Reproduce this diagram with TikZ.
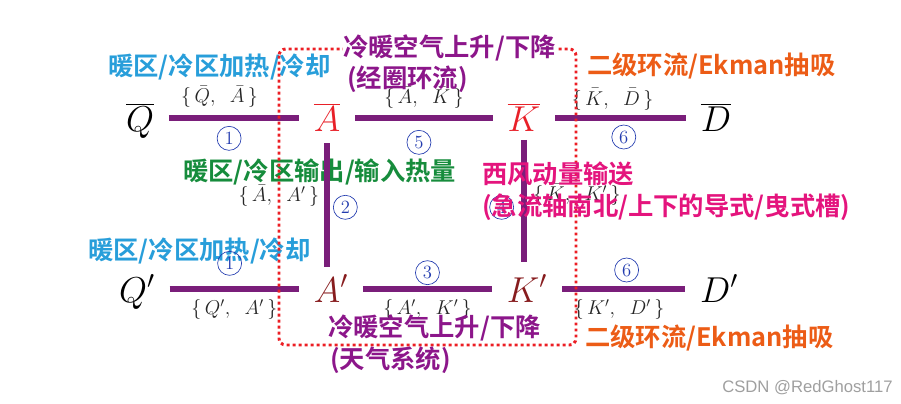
\RequirePackage{fix-cm}
\documentclass[tikz,border=0pt]{standalone}
\usepackage{fontspec}
\newfontfamily\cjk{Noto Sans CJK SC Bold}
\newfontfamily\wmfont{Liberation Sans}
\definecolor{barpurple}{RGB}{122,30,122}
\definecolor{topred}{RGB}{232,32,40}
\definecolor{lowred}{RGB}{135,28,30}
\definecolor{numblue}{RGB}{35,60,175}
\definecolor{heatblue}{RGB}{40,158,218}
\definecolor{airpurple}{RGB}{140,22,138}
\definecolor{fluxgreen}{RGB}{22,140,60}
\definecolor{windpink}{RGB}{228,20,125}
\definecolor{ekorange}{RGB}{236,92,22}
\definecolor{boxred}{RGB}{236,30,36}
\newcommand{\pairof}[2]{$\{\,#1,\;\;#2\,\}$}

\begin{document}
\begin{tikzpicture}[x=0.75pt,y=-0.75pt]
  \tikzstyle{symb}=[inner sep=0pt,anchor=base,text height=26pt,text depth=6.5pt,font=\fontsize{27}{27}\selectfont]
  \tikzstyle{bar}=[barpurple,line width=4pt,shorten <=11pt,shorten >=11pt]
  \tikzstyle{pair}=[inner sep=1pt,text=black!85,font=\fontsize{15}{15}\selectfont]
  \tikzstyle{circnum}=[circle,draw=numblue,line width=0.5pt,text=numblue,inner sep=0pt,minimum size=18pt,font=\fontsize{14}{14}\selectfont]
  \tikzstyle{note}=[anchor=west,inner sep=0pt,font=\cjk\fontsize{19}{19}\selectfont]
  \useasboundingbox (0,0) rectangle (901,404);
  % variables
  \node[symb] (Qb) at (140,131) {$\overline{Q}$};
  \node[symb,topred] (Ab) at (327,131) {$\overline{A}$};
  \node[symb,topred] (Kb) at (524,131) {$\overline{K}$};
  \node[symb] (Db) at (716,131) {$\overline{D}$};
  \node[symb] (Qp) at (137,302) {$Q'$};
  \node[symb,lowred] (Ap) at (331,302) {$A'$};
  \node[symb,lowred] (Kp) at (527,302) {$K'$};
  \node[symb] (Dp) at (719,302) {$D'$};
  % texts under the frame
  \node[note,heatblue] (heattop) at (108,67) {暖区/冷区加热/冷却};
  \node[note,heatblue] (heatlow) at (88,251) {暖区/冷区加热/冷却};
  \node[note,fluxgreen] (flux) at (183,172) {暖区/冷区输出/输入热量};
  % exchanges
  \draw[bar] (Qb) -- node[pair,above=5pt,pos=0.41] {\pairof{\bar{Q}}{\bar{A}}} node[circnum,below=6pt,pos=0.47] {1} (Ab);
  \draw[bar] (Ab) -- node[pair,above=4pt] {\pairof{\bar{A}}{\bar{K}}} node[circnum,below=9pt,pos=0.47] {5} (Kb);
  \draw[bar] (Kb) -- node[pair,above=3pt,pos=0.45] {\pairof{\bar{K}}{\bar{D}}} node[circnum,below=5pt,pos=0.52] {6} (Db);
  \draw[bar] (Qp) -- node[pair,below=5pt] {\pairof{Q'}{A'}} node[circnum,above=10pt,pos=0.47] {1} (Ap);
  \draw[bar] (Ap) -- node[pair,below=5pt] {\pairof{A'}{K'}} node[circnum,above=3pt] {3} (Kp);
  \draw[bar] (Kp) -- node[pair,below=5pt,pos=0.47] {\pairof{K'}{D'}} node[circnum,above=5pt,pos=0.52] {6} (Dp);
  \draw[bar,shorten <=2.5pt,shorten >=0pt] (Ab.south) -- node[pair,left=3pt,pos=0.44] {\pairof{\bar{A}}{A'}} node[circnum,right=4.5pt,pos=0.53] {2} (Ab.south |- Ap.north);
  \draw[bar,shorten <=0pt,shorten >=3.5pt] (Kb.south) -- node[pair,right=4pt,pos=0.43] {\pairof{\bar{K}}{K'}} node[circnum,left=7.5pt,pos=0.53] {4} (Kb.south |- Kp.north);
  % frame
  \draw[boxred,line width=2.2pt,dash pattern=on 2.2pt off 2.3pt,rounded corners=5pt] (279,49) rectangle (576,345);
  % texts over the frame
  \node[note,airpurple,fill=white] (airtop) at (343,48) {冷暖空气上升/下降};
  \node[note,airpurple] (airtopsub) at (347,79) {(经圈环流)};
  \node[note,airpurple] (airlow) at (328,328) {冷暖空气上升/下降};
  \node[note,airpurple] (airlowsub) at (330,360) {(天气系统)};
  \node[note,windpink] (wind) at (482,174) {西风动量输送};
  \node[note,windpink] (windsub) at (482,207) {(急流轴南北/上下的导式/曳式槽)};
  \node[note,ekorange] (ektop) at (587,66) {二级环流/Ekman抽吸};
  \node[note,ekorange] (eklow) at (585,338) {二级环流/Ekman抽吸};
  \node[anchor=west,inner sep=0pt,text=gray!75,font=\wmfont\fontsize{12.5}{12.5}\selectfont] (mark) at (722,388) {CSDN @RedGhost117};
\end{tikzpicture}
\end{document}
